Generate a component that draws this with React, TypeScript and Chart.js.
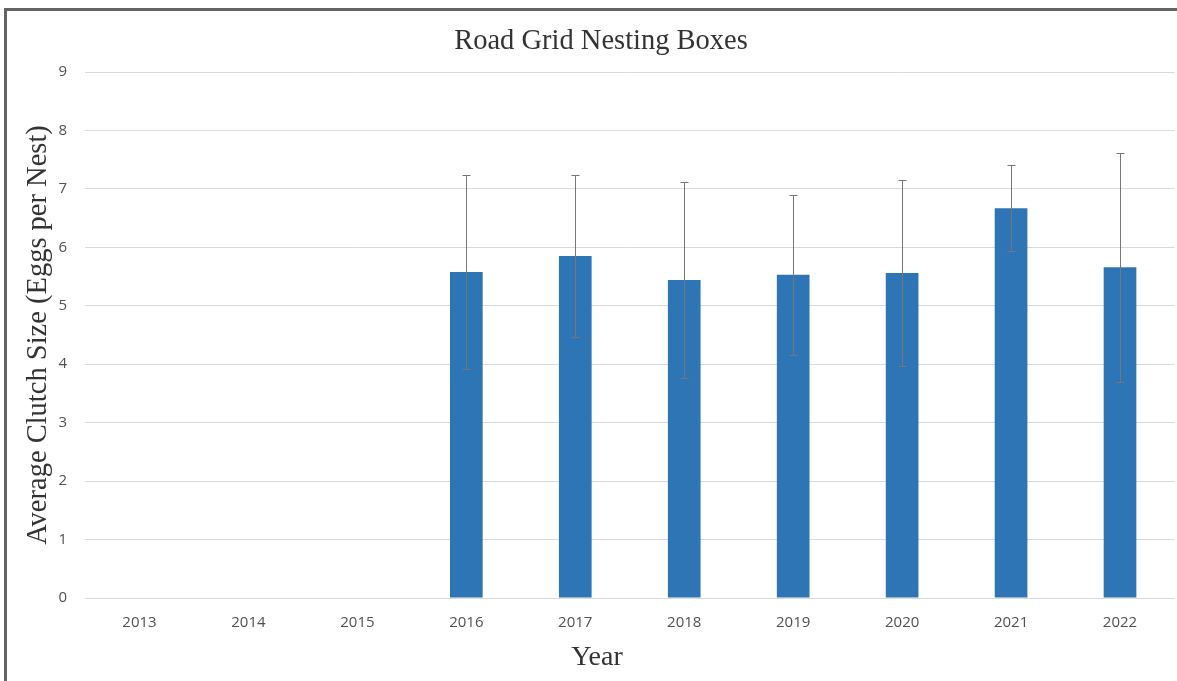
import React, { useEffect, useRef } from "react";
import { Chart, registerables } from "chart.js";

Chart.register(...registerables);

const years = ["2013", "2014", "2015", "2016", "2017", "2018", "2019", "2020", "2021", "2022"];
const clutchSize: (number | null)[] = [null, null, null, 5.58, 5.85, 5.44, 5.53, 5.56, 6.67, 5.66];
const errorSize: (number | null)[] = [null, null, null, 1.66, 1.39, 1.68, 1.37, 1.59, 0.74, 1.96];
const yMin = 0;
const yMax = 9;
const yStep = 1;

const chartTitle = "Road Grid Nesting Boxes";
const xTitle = "Year";
const yTitle = "Average Clutch Size (Eggs per Nest)";

const serif = "'Liberation Serif', serif";
const textColor = "#333333";

const errorBarPlugin = {
  id: "errorBars",
  afterDatasetsDraw(chart: any) {
    const meta = chart.getDatasetMeta(0);
    const yScale = chart.scales.y;
    const ctx = chart.ctx;
    ctx.save();
    ctx.strokeStyle = "#767676";
    ctx.lineWidth = 1;
    meta.data.forEach((bar: any, i: number) => {
      const v = clutchSize[i];
      const e = errorSize[i];
      if (v == null || e == null) return;
      const x = Math.round(bar.x) + 0.5;
      const yTop = Math.round(yScale.getPixelForValue(v + e)) + 0.5;
      const yBot = Math.round(yScale.getPixelForValue(v - e)) + 0.5;
      const cap = 4;
      ctx.beginPath();
      ctx.moveTo(x, yTop);
      ctx.lineTo(x, yBot);
      ctx.moveTo(x - cap, yTop);
      ctx.lineTo(x + cap, yTop);
      ctx.moveTo(x - cap, yBot);
      ctx.lineTo(x + cap, yBot);
      ctx.stroke();
    });
    ctx.restore();
  },
};

const titlesPlugin = {
  id: "titles",
  afterDraw(chart: any) {
    const ctx = chart.ctx;
    ctx.save();
    ctx.fillStyle = textColor;
    ctx.textAlign = "center";
    ctx.textBaseline = "middle";
    ctx.font = `28.5px ${serif}`;
    ctx.fillText(chartTitle, 601, 42);
    ctx.font = `28px ${serif}`;
    ctx.fillText(xTitle, 597, 658);
    ctx.restore();
  },
};

export default function App() {
  const canvasRef = useRef<HTMLCanvasElement | null>(null);

  useEffect(() => {
    if (!canvasRef.current) return;
    const tickFont = { family: "'Open Sans', sans-serif", size: 15 };
    const chart = new Chart(canvasRef.current, {
      type: "bar",
      data: {
        labels: years,
        datasets: [
          {
            label: "Average clutch size",
            data: clutchSize,
            backgroundColor: "#2e75b6",
            borderWidth: 0,
            barPercentage: 0.3,
            categoryPercentage: 1,
          },
        ],
      },
      options: {
        responsive: false,
        animation: false,
        devicePixelRatio: 1,
        layout: { padding: { top: 72, right: 2.5, bottom: 0, left: 0 } },
        plugins: {
          legend: { display: false },
          tooltip: { enabled: false },
          title: { display: false },
        },
        scales: {
          x: {
            grid: { display: false },
            border: { display: false },
            ticks: { color: "#505050", font: tickFont, padding: 8, maxRotation: 0 },
            afterFit(scale: any) {
              scale.height = 83;
            },
          },
          y: {
            min: yMin,
            max: yMax,
            grid: { color: "#d9d9d9", lineWidth: 1, drawTicks: false },
            border: { display: false },
            ticks: { stepSize: yStep, color: "#505050", font: tickFont, padding: 18 },
            title: {
              display: true,
              text: yTitle,
              color: textColor,
              font: { family: serif, size: 28.5 },
              padding: { top: 21, bottom: 0 },
            },
            afterFit(scale: any) {
              scale.width = 85;
            },
          },
        },
      },
      plugins: [errorBarPlugin, titlesPlugin],
    });
    return () => chart.destroy();
  }, []);

  return (
    <div style={{ position: "absolute", left: 0, top: 0, width: 1177, height: 681, background: "#fff" }}>
      <canvas
        ref={canvasRef}
        width={1177}
        height={681}
        style={{ position: "absolute", left: 0, top: 0, width: 1177, height: 681 }}
      />
      <div
        style={{
          position: "absolute",
          left: 4,
          top: 8,
          width: 1177 - 4,
          height: 681 - 8,
          borderLeft: "3px solid #646464",
          borderTop: "3px solid #646464",
          boxSizing: "border-box",
          pointerEvents: "none",
        }}
      />
    </div>
  );
}
